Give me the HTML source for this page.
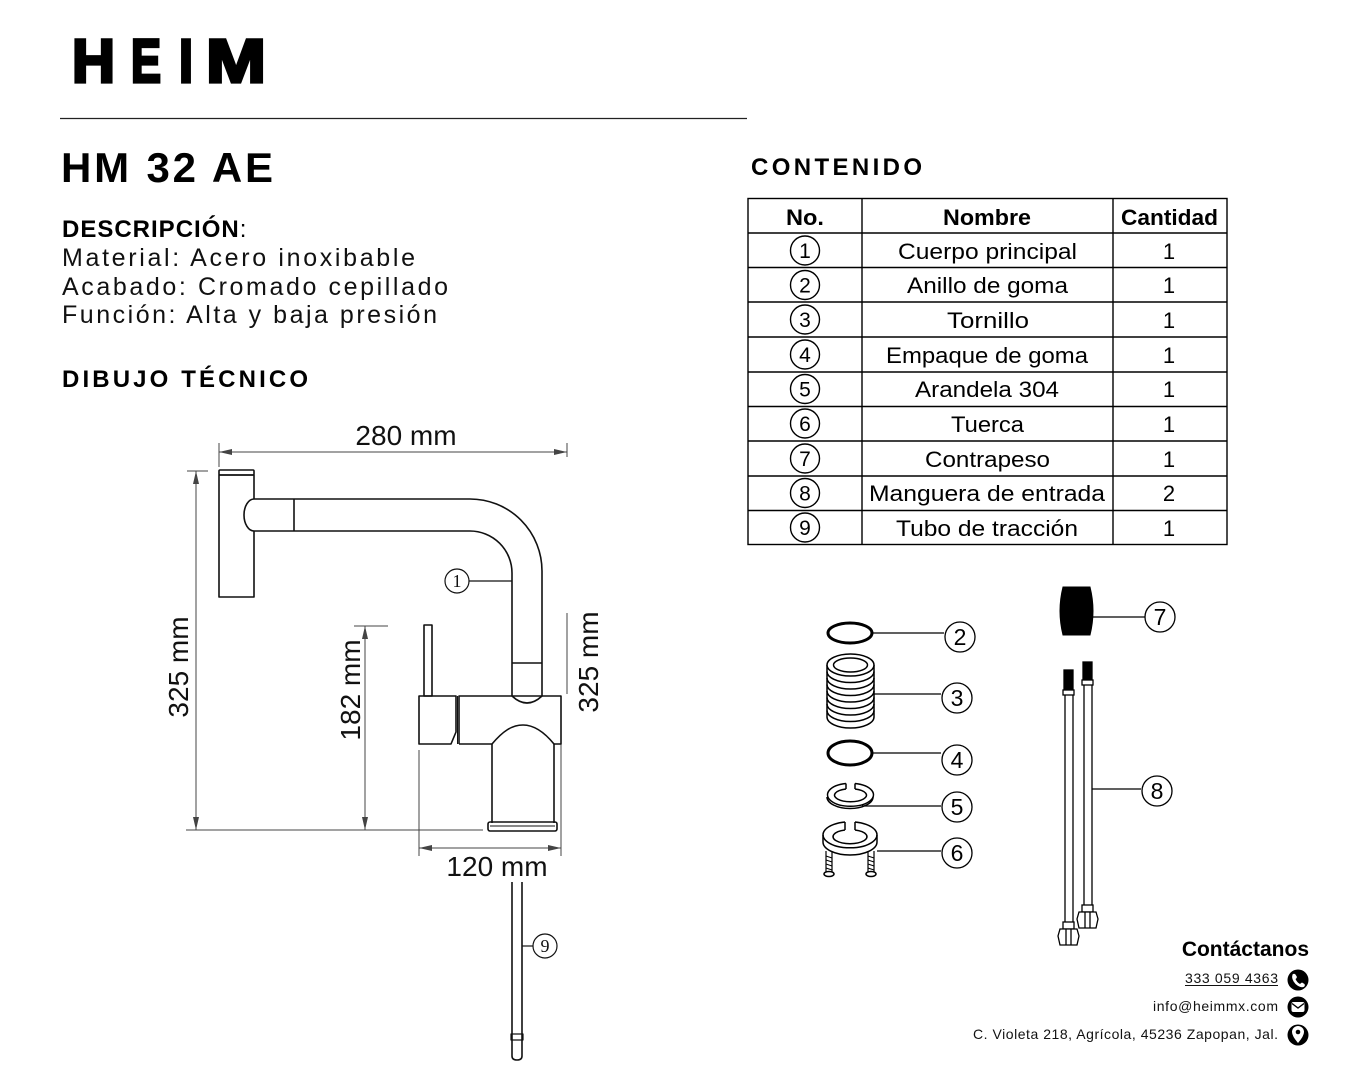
<!DOCTYPE html>
<html><head><meta charset="utf-8"><style>
html,body{margin:0;padding:0;background:#fff;}
svg{display:block;}
</style></head><body>
<svg width="1350" height="1080" viewBox="0 0 1350 1080" xmlns="http://www.w3.org/2000/svg" font-family="Liberation Sans, Arial, sans-serif">
<rect width="1350" height="1080" fill="#fff"/>

<!-- Logo -->
<g fill="#000" stroke="#000" stroke-width="3.2" stroke-linejoin="miter" font-weight="bold" font-size="61">
<text x="72" y="82" textLength="43" lengthAdjust="spacingAndGlyphs">H</text>
<text x="131" y="82" textLength="30" lengthAdjust="spacingAndGlyphs">E</text>
<text x="179" y="82" textLength="14" lengthAdjust="spacingAndGlyphs">I</text>
<text x="206" y="82" textLength="60" lengthAdjust="spacingAndGlyphs">M</text>
</g>
<line x1="60" y1="118.5" x2="747" y2="118.5" stroke="#222" stroke-width="1.2"/>

<!-- Title & description -->
<text x="61" y="182" font-size="42" font-weight="bold" textLength="212" lengthAdjust="spacing" fill="#000">HM 32 AE</text>
<text x="62" y="237" font-size="24" fill="#000"><tspan font-weight="bold" letter-spacing="1">DESCRIPCIÓN</tspan>:</text>
<text x="62" y="266" font-size="25" textLength="353" lengthAdjust="spacing" fill="#111">Material: Acero inoxibable</text>
<text x="62" y="295" font-size="25" textLength="386" lengthAdjust="spacing" fill="#111">Acabado: Cromado cepillado</text>
<text x="62" y="323" font-size="25" textLength="375" lengthAdjust="spacing" fill="#111">Función: Alta y baja presión</text>
<text x="62" y="387" font-size="24" font-weight="bold" textLength="246" lengthAdjust="spacing" fill="#000">DIBUJO TÉCNICO</text>

<text x="751" y="175" font-size="24" font-weight="bold" textLength="171" lengthAdjust="spacing" fill="#000">CONTENIDO</text>

<!-- Table -->
<g stroke="#000" stroke-width="1.4" fill="none">
<rect x="748" y="198.5" width="479" height="346"/>
<line x1="862" y1="198" x2="862" y2="545"/>
<line x1="1113" y1="198" x2="1113" y2="545"/>
<line x1="748" y1="233" x2="1227" y2="233"/>
<line x1="748" y1="267.5" x2="1227" y2="267.5"/>
<line x1="748" y1="302" x2="1227" y2="302"/>
<line x1="748" y1="337" x2="1227" y2="337"/>
<line x1="748" y1="372" x2="1227" y2="372"/>
<line x1="748" y1="406.5" x2="1227" y2="406.5"/>
<line x1="748" y1="441" x2="1227" y2="441"/>
<line x1="748" y1="476" x2="1227" y2="476"/>
<line x1="748" y1="510.5" x2="1227" y2="510.5"/>
</g>
<g font-size="22" fill="#000">
<text x="786" y="225" font-weight="bold" textLength="38" lengthAdjust="spacingAndGlyphs">No.</text>
<text x="943" y="225" font-weight="bold" textLength="88" lengthAdjust="spacingAndGlyphs">Nombre</text>
<text x="1121" y="225" font-weight="bold" textLength="97" lengthAdjust="spacingAndGlyphs">Cantidad</text>
<text x="898" y="259" textLength="179" lengthAdjust="spacingAndGlyphs">Cuerpo principal</text>
<text x="907" y="293" textLength="161" lengthAdjust="spacingAndGlyphs">Anillo de goma</text>
<text x="947" y="328" textLength="82" lengthAdjust="spacingAndGlyphs">Tornillo</text>
<text x="886" y="363" textLength="202" lengthAdjust="spacingAndGlyphs">Empaque de goma</text>
<text x="915" y="397" textLength="144" lengthAdjust="spacingAndGlyphs">Arandela 304</text>
<text x="951" y="432" textLength="73" lengthAdjust="spacingAndGlyphs">Tuerca</text>
<text x="925" y="467" textLength="125" lengthAdjust="spacingAndGlyphs">Contrapeso</text>
<text x="869" y="501" textLength="236" lengthAdjust="spacingAndGlyphs">Manguera de entrada</text>
<text x="896" y="536" textLength="182" lengthAdjust="spacingAndGlyphs">Tubo de tracción</text>
</g>
<g font-size="22" text-anchor="middle" fill="#000">
<text x="1169" y="259">1</text>
<text x="1169" y="293">1</text>
<text x="1169" y="328">1</text>
<text x="1169" y="363">1</text>
<text x="1169" y="397">1</text>
<text x="1169" y="432">1</text>
<text x="1169" y="467">1</text>
<text x="1169" y="501">2</text>
<text x="1169" y="536">1</text>
</g>
<g stroke="#000" stroke-width="1.4" fill="none">
<circle cx="805" cy="250.5" r="14.5"/>
<circle cx="805" cy="285" r="14.5"/>
<circle cx="805" cy="319.5" r="14.5"/>
<circle cx="805" cy="354.5" r="14.5"/>
<circle cx="805" cy="389" r="14.5"/>
<circle cx="805" cy="423.5" r="14.5"/>
<circle cx="805" cy="458.5" r="14.5"/>
<circle cx="805" cy="493" r="14.5"/>
<circle cx="805" cy="527.5" r="14.5"/>
</g>
<g font-size="21" text-anchor="middle" fill="#000">
<text x="805" y="258">1</text>
<text x="805" y="292.5">2</text>
<text x="805" y="327">3</text>
<text x="805" y="362">4</text>
<text x="805" y="396.5">5</text>
<text x="805" y="431">6</text>
<text x="805" y="466">7</text>
<text x="805" y="500.5">8</text>
<text x="805" y="535">9</text>
</g>

<!-- Technical drawing: dimensions -->
<g stroke="#444" stroke-width="1" fill="none">
<line x1="219" y1="443" x2="219" y2="467"/>
<line x1="567" y1="443" x2="567" y2="457"/>
<line x1="567" y1="613" x2="567" y2="694"/>
<line x1="219" y1="452" x2="567" y2="452"/>
<line x1="187" y1="471" x2="208" y2="471"/>
<line x1="196" y1="471" x2="196" y2="830"/>
<line x1="186" y1="830" x2="483" y2="830"/>
<line x1="354" y1="626" x2="388" y2="626"/>
<line x1="365" y1="626" x2="365" y2="830"/>
<line x1="419" y1="750" x2="419" y2="856"/>
<line x1="561" y1="744" x2="561" y2="856"/>
<line x1="419" y1="848" x2="561" y2="848"/>
</g>
<g fill="#444">
<polygon points="219,452 232,449 232,455"/>
<polygon points="567,452 554,449 554,455"/>
<polygon points="196,471 193,484 199,484"/>
<polygon points="196,830 193,817 199,817"/>
<polygon points="365,626 362,639 368,639"/>
<polygon points="365,830 362,817 368,817"/>
<polygon points="419,848 432,845 432,851"/>
<polygon points="561,848 548,845 548,851"/>
</g>
<g font-size="28" fill="#111" text-anchor="middle">
<text x="406" y="445">280 mm</text>
<text x="497" y="876">120 mm</text>
<text transform="translate(188,667) rotate(-90)">325 mm</text>
<text transform="translate(360,690) rotate(-90)">182 mm</text>
<text transform="translate(598,662) rotate(-90)">325 mm</text>
</g>

<!-- Faucet -->
<g stroke="#111" stroke-width="1.6" fill="none" stroke-linejoin="round">
<rect x="219" y="470" width="35" height="5" rx="1"/>
<path d="M254,499 L254,475 L219,475 L219,597 L254,597 L254,531"/>
<path d="M254,499 A10,16 0 0 0 254,531"/>
<path d="M254,499 L470,499 A72,72 0 0 1 542,571 L542,696"/>
<path d="M254,531 L470,531 A42,42 0 0 1 512,573 L512,696"/>
<line x1="294" y1="499" x2="294" y2="531"/>
<line x1="512" y1="663" x2="542" y2="663"/>
<path d="M512,696 Q527,710 542,696"/>
<path d="M459,744 L459,696 L561,696 L561,744 L554,744"/>
<path d="M459,744 L492,744 C503,731 512,725 523,725 C535,725 545,733 554,744"/>
<line x1="492" y1="744" x2="492" y2="823"/>
<line x1="554" y1="744" x2="554" y2="823"/>
<rect x="488" y="822" width="69" height="9" rx="2"/>
<line x1="490" y1="826" x2="555" y2="826" stroke-width="1"/>
<path d="M456,696 L419,696 L419,744 L451,744 L456,732 Z"/>
<line x1="457.5" y1="696" x2="457.5" y2="744" stroke-width="1"/>
<rect x="424" y="625" width="8" height="71"/>
<line x1="512" y1="882" x2="512" y2="1056"/>
<line x1="522" y1="882" x2="522" y2="1056"/>
<rect x="511" y="1034" width="12" height="6" stroke-width="1.2"/>
<path d="M512,1056 Q512,1060 517,1060 Q522,1060 522,1056"/>
</g>
<g stroke="#111" stroke-width="1.2" fill="#fff">
<line x1="469" y1="581" x2="512" y2="581"/>
<circle cx="457" cy="581" r="12"/>
<line x1="522" y1="946" x2="533" y2="946"/>
<circle cx="545" cy="946" r="12"/>
</g>
<g font-family="Liberation Serif, serif" font-size="18" text-anchor="middle" fill="#111">
<text x="457" y="587">1</text>
<text x="545" y="952">9</text>
</g>

<!-- Parts -->
<g stroke="#000" fill="none">
<!-- 2 -->
<ellipse cx="850" cy="633" rx="22" ry="10" stroke-width="3"/>
<line x1="873" y1="633" x2="944" y2="633" stroke-width="1.2"/>
<!-- 3 spring -->
<g stroke-width="1.5">
<line x1="827" y1="665" x2="827" y2="717"/>
<line x1="874" y1="665" x2="874" y2="717"/>
<ellipse cx="850.5" cy="665" rx="23.5" ry="11" fill="#fff"/>
<ellipse cx="850.5" cy="665" rx="17" ry="7"/>
<path d="M827,671.5 A23.5,11 0 0 0 874,671.5"/>
<path d="M827,678 A23.5,11 0 0 0 874,678"/>
<path d="M827,684.5 A23.5,11 0 0 0 874,684.5"/>
<path d="M827,691 A23.5,11 0 0 0 874,691"/>
<path d="M827,697.5 A23.5,11 0 0 0 874,697.5"/>
<path d="M827,704 A23.5,11 0 0 0 874,704"/>
<path d="M827,710.5 A23.5,11 0 0 0 874,710.5"/>
<path d="M827,717 A23.5,11 0 0 0 874,717"/>
</g>
<line x1="874" y1="694" x2="941" y2="694" stroke-width="1.2"/>
<!-- 4 -->
<ellipse cx="850" cy="753" rx="22" ry="12" stroke-width="3"/>
<line x1="873" y1="753" x2="941" y2="753" stroke-width="1.2"/>
<!-- 5 -->
<g stroke-width="1.5">
<path d="M846,783.5 A23,11.5 0 1 0 855,783.5"/>
<path d="M846,789 A16,6.5 0 1 0 855,789"/>
<line x1="846" y1="783.5" x2="846" y2="789"/>
<line x1="855" y1="783.5" x2="855" y2="789"/>
<path d="M827,797 A23,11.5 0 0 0 873,797"/>
</g>
<line x1="862" y1="806" x2="941" y2="806" stroke-width="1.2"/>
<!-- 6 -->
<g stroke-width="1.5">
<path d="M845,822 A27,13 0 1 0 855,822"/>
<path d="M845,830 A17,7 0 1 0 855,830"/>
<line x1="845" y1="822" x2="845" y2="830"/>
<line x1="855" y1="822" x2="855" y2="830"/>
<line x1="823" y1="835" x2="823" y2="842"/>
<line x1="877" y1="835" x2="877" y2="842"/>
<path d="M823,842 A27,13 0 0 0 877,842"/>
<path d="M826,851 L826,872 M832,851 L832,872 M868,851 L868,872 M874,851 L874,872" stroke-width="1.2"/>
<path d="M826,856 L832,858 M826,860 L832,862 M826,864 L832,866 M826,868 L832,870 M868,856 L874,858 M868,860 L874,862 M868,864 L874,866 M868,868 L874,870" stroke-width="1"/>
<ellipse cx="829" cy="874" rx="5" ry="2.5"/>
<ellipse cx="871" cy="874" rx="5" ry="2.5"/>
</g>
<line x1="877" y1="851" x2="941" y2="851" stroke-width="1.2"/>
<!-- 7 -->
<path d="M1063,587 L1090,587 Q1096,611 1090,635 L1063,635 Q1057,611 1063,587 Z" fill="#000" stroke-width="1"/>
<line x1="1093" y1="617" x2="1145" y2="617" stroke-width="1.2"/>
<!-- 8 hoses -->
<g stroke-width="1.3">
<rect x="1064" y="670" width="9" height="20" fill="#000"/>
<rect x="1063" y="690" width="11" height="5" fill="#fff"/>
<line x1="1065" y1="695" x2="1065" y2="922"/>
<line x1="1073" y1="695" x2="1073" y2="922"/>
<rect x="1063" y="922" width="11" height="7" fill="#fff"/>
<path d="M1060,929 L1077,929 L1079,936 L1077,945 L1060,945 L1058,936 Z" fill="#fff"/>
<line x1="1066" y1="929" x2="1066" y2="945"/><line x1="1071" y1="929" x2="1071" y2="945"/>
<rect x="1083" y="662" width="9" height="18" fill="#000"/>
<rect x="1082" y="680" width="11" height="5" fill="#fff"/>
<line x1="1084" y1="685" x2="1084" y2="905"/>
<line x1="1092" y1="685" x2="1092" y2="905"/>
<rect x="1082" y="905" width="11" height="7" fill="#fff"/>
<path d="M1079,912 L1096,912 L1098,919 L1096,928 L1079,928 L1077,919 Z" fill="#fff"/>
<line x1="1085" y1="912" x2="1085" y2="928"/><line x1="1090" y1="912" x2="1090" y2="928"/>
</g>
<line x1="1092" y1="789" x2="1141" y2="789" stroke-width="1.2"/>
</g>
<g stroke="#000" stroke-width="1.3" fill="#fff">
<circle cx="960" cy="637" r="15"/>
<circle cx="957" cy="698" r="15"/>
<circle cx="957" cy="760" r="15"/>
<circle cx="957" cy="807" r="15"/>
<circle cx="957" cy="853" r="15"/>
<circle cx="1160" cy="617" r="15"/>
<circle cx="1157" cy="791" r="15"/>
</g>
<g font-size="23" text-anchor="middle" fill="#000">
<text x="960" y="645">2</text>
<text x="957" y="706">3</text>
<text x="957" y="768">4</text>
<text x="957" y="815">5</text>
<text x="957" y="861">6</text>
<text x="1160" y="625">7</text>
<text x="1157" y="799">8</text>
</g>

<!-- Contact -->
<text x="1309" y="956" font-size="21" font-weight="bold" text-anchor="end" fill="#000">Contáctanos</text>
<text x="1278" y="983" font-size="14" text-anchor="end" fill="#111" textLength="93" lengthAdjust="spacing">333 059 4363</text>
<line x1="1185" y1="985.5" x2="1278" y2="985.5" stroke="#111" stroke-width="1"/>
<text x="1278" y="1011" font-size="14" text-anchor="end" fill="#111" textLength="125" lengthAdjust="spacing">info@heimmx.com</text>
<text x="1278" y="1039" font-size="14" text-anchor="end" fill="#111" textLength="305" lengthAdjust="spacing">C. Violeta 218, Agrícola, 45236 Zapopan, Jal.</text>
<circle cx="1298" cy="980" r="10.5" fill="#000"/>
<path d="M1292.5,974.5 Q1294,973 1295.5,974.5 L1297,977 Q1296.5,978.5 1295.5,979 Q1297,982.5 1300,984 Q1301,983 1302,982.5 L1304.5,984 Q1305.5,986 1303.5,987 Q1300,988 1295.5,984 Q1291,979 1292.5,974.5 Z" fill="#fff"/>
<circle cx="1298" cy="1007" r="10.5" fill="#000"/>
<rect x="1291.5" y="1002" width="13" height="10" rx="2" fill="#fff"/>
<path d="M1292,1003.5 L1298,1008 L1304,1003.5" stroke="#000" stroke-width="1.4" fill="none"/>
<circle cx="1298" cy="1035" r="10.5" fill="#000"/>
<path d="M1298,1043 Q1292,1036 1292,1032 A6,6 0 0 1 1304,1032 Q1304,1036 1298,1043 Z" fill="#fff"/>
<circle cx="1298" cy="1032" r="2.3" fill="#000"/>
</svg>
</body></html>
